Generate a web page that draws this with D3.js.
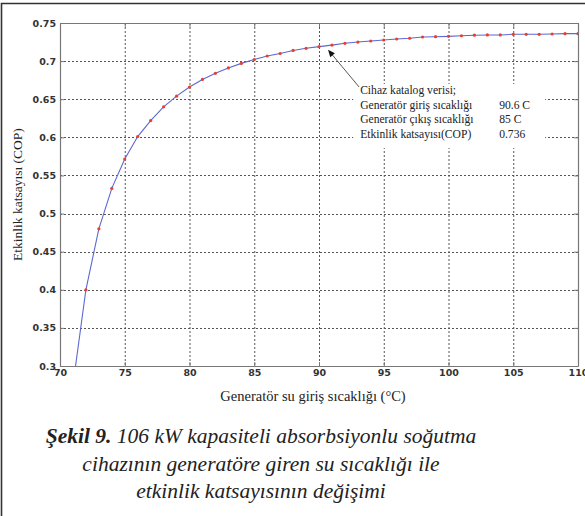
<!DOCTYPE html>
<html>
<head>
<meta charset="utf-8">
<script src="https://cdn.jsdelivr.net/npm/d3@7"></script>
<style>
  body { margin: 0; background: #fff; }
  svg { display: block; }
</style>
</head>
<body>
<div id="chart"></div>
<script>
const width = 585;
const height = 516;
const margin = { top: 23, right: 7, bottom: 150, left: 60 };
const serif = "Liberation Serif, Times New Roman, serif";

// generator inlet water temperature (C)
const temps = [71, 72, 73, 74, 75, 76, 77, 78, 79, 80, 81, 82, 83, 84, 85, 86, 87, 88, 89, 90,
  91, 92, 93, 94, 95, 96, 97, 98, 99, 100, 101, 102, 103, 104, 105, 106, 107, 108, 109, 110];
// coefficient of performance
const cop = [0.275, 0.400, 0.480, 0.533, 0.5715, 0.601, 0.622, 0.640, 0.654, 0.666,
  0.676, 0.684, 0.691, 0.697, 0.702, 0.7067, 0.710, 0.714, 0.7168, 0.719,
  0.721, 0.7234, 0.725, 0.7264, 0.7277, 0.729, 0.730, 0.7316, 0.732, 0.7325,
  0.7333, 0.734, 0.7343, 0.7343, 0.7352, 0.7352, 0.7352, 0.7356, 0.736, 0.736];

const xTicks = [70, 75, 80, 85, 90, 95, 100, 105, 110];
const yTicks = [0.3, 0.35, 0.4, 0.45, 0.5, 0.55, 0.6, 0.65, 0.7, 0.75];

const noteLabels = ["Cihaz katalog verisi;", "Generatör giriş sıcaklığı", "Generatör çıkış sıcaklığı", "Etkinlik katsayısı(COP)"];
const noteValues = ["", "90.6 C", "85 C", "0.736"];
const noteTip = [90.7, 0.7148];   // where the arrow points (data units)
const noteTail = [93.1, 0.666];

const captionBold = "Şekil 9.";
const captionLines = [" 106 kW kapasiteli absorbsiyonlu soğutma", "cihazının generatöre giren su sıcaklığı ile", "etkinlik katsayısının değişimi"];

const data = temps.map((t, i) => ({ t: t, v: cop[i] }));

const svg = d3
  .select("#chart")
  .append("svg")
  .attr("width", width)
  .attr("height", height);

const x = d3
  .scaleLinear()
  .domain([70, 110])
  .range([margin.left, width - margin.right]);

const y = d3
  .scaleLinear()
  .domain([0.3, 0.75])
  .range([height - margin.bottom, margin.top]);

const plotW = x.range()[1] - x.range()[0];
const plotH = y.range()[0] - y.range()[1];

// outer frame (only top and left edges show in the crop)
svg.append("path")
  .attr("d", `M1.5,${height} L1.5,3.5 L${width},3.5`)
  .attr("fill", "none")
  .attr("stroke", "#333")
  .attr("stroke-width", 1.6);

// dotted grid
const grid = svg.append("g").attr("stroke", "#555").attr("stroke-width", 1).attr("stroke-dasharray", "2,2");
grid.selectAll("line.vx")
  .data(xTicks.slice(1, -1))
  .join("line")
  .attr("x1", (d) => x(d) + 0.5).attr("x2", (d) => x(d) + 0.5)
  .attr("y1", y.range()[1]).attr("y2", y.range()[0]);
grid.selectAll("line.hy")
  .data(yTicks.slice(1, -1))
  .join("line")
  .attr("y1", (d) => Math.round(y(d)) + 0.5).attr("y2", (d) => Math.round(y(d)) + 0.5)
  .attr("x1", x.range()[0]).attr("x2", x.range()[1]);

// axes, ticks inward on all four sides
const fmt = (d) => d3.format("")(+d.toFixed(2));
const axStyle = (g) => {
  g.select(".domain").attr("stroke", "#777").attr("stroke-width", 1.2);
  g.selectAll(".tick line").attr("stroke", "#777");
  g.selectAll("text").attr("fill", "#333").attr("font-family", "DejaVu Sans").attr("font-size", 9.5).attr("font-weight", "bold");
};

svg.append("g")
  .attr("transform", `translate(0,${y.range()[0]})`)
  .call(d3.axisBottom(x).tickValues(xTicks).tickSize(-4).tickSizeOuter(0).tickPadding(3))
  .call(axStyle);
svg.append("g")
  .attr("transform", `translate(${x.range()[0]},0)`)
  .call(d3.axisLeft(y).tickValues(yTicks).tickFormat(fmt).tickSize(-4).tickSizeOuter(0).tickPadding(4))
  .call(axStyle);
svg.append("g")
  .attr("transform", `translate(0,${y.range()[1]})`)
  .call(d3.axisTop(x).tickValues(xTicks).tickSize(-4).tickSizeOuter(0).tickFormat(""))
  .call(axStyle);
svg.append("g")
  .attr("transform", `translate(${x.range()[1]},0)`)
  .call(d3.axisRight(y).tickValues(yTicks).tickSize(-4).tickSizeOuter(0).tickFormat(""))
  .call(axStyle);

// curve + markers, clipped to the plot box
svg.append("clipPath").attr("id", "clip")
  .append("rect")
  .attr("x", x.range()[0]).attr("y", y.range()[1])
  .attr("width", plotW).attr("height", plotH);

const plot = svg.append("g").attr("clip-path", "url(#clip)");

const line = d3.line().x((d) => x(d.t)).y((d) => y(d.v));

plot.append("path")
  .datum(data)
  .attr("fill", "none")
  .attr("stroke", "#5d68d0")
  .attr("stroke-width", 1.1)
  .attr("d", line);

plot.selectAll("circle")
  .data(data)
  .join("circle")
  .attr("cx", (d) => x(d.t))
  .attr("cy", (d) => y(d.v))
  .attr("r", 1.6)
  .attr("fill", "#e8402a");

// annotation
const tipX = x(noteTip[0]), tipY = y(noteTip[1]);
const tailX = x(noteTail[0]), tailY = y(noteTail[1]);

svg.append("rect")
  .attr("x", tailX - 6).attr("y", tailY - 3)
  .attr("width", 192).attr("height", 64)
  .attr("fill", "#fff");

const ang = Math.atan2(tipY - tailY, tipX - tailX);
svg.append("line")
  .attr("x1", tailX).attr("y1", tailY)
  .attr("x2", tipX - 5 * Math.cos(ang)).attr("y2", tipY - 5 * Math.sin(ang))
  .attr("stroke", "#444").attr("stroke-width", 0.9);
const ah = 7, aw = 3;
svg.append("path")
  .attr("d", `M${tipX},${tipY}
    L${tipX - ah * Math.cos(ang) + aw * Math.sin(ang)},${tipY - ah * Math.sin(ang) - aw * Math.cos(ang)}
    L${tipX - ah * Math.cos(ang) - aw * Math.sin(ang)},${tipY - ah * Math.sin(ang) + aw * Math.cos(ang)} Z`)
  .attr("fill", "#111");

const note = svg.append("g")
  .attr("font-family", serif)
  .attr("font-size", 11.6)
  .attr("fill", "#222");

note.selectAll("text.lab")
  .data(noteLabels)
  .join("text")
  .attr("class", "lab")
  .attr("x", tailX + 1)
  .attr("y", (d, i) => tailY + 7 + i * 14.5)
  .text((d) => d);

note.selectAll("text.val")
  .data(noteValues)
  .join("text")
  .attr("class", "val")
  .attr("x", tailX + 140)
  .attr("y", (d, i) => tailY + 7 + i * 14.5)
  .text((d) => d);

// axis titles
svg.append("text")
  .attr("font-family", serif)
  .attr("x", (x.range()[0] + x.range()[1]) / 2 - 6)
  .attr("y", 401)
  .attr("text-anchor", "middle")
  .attr("font-size", 14.5)
  .attr("fill", "#222")
  .text("Generatör su giriş sıcaklığı (°C)");

svg.append("text")
  .attr("font-family", serif)
  .attr("transform", `translate(22,${(y.range()[0] + y.range()[1]) / 2}) rotate(-90)`)
  .attr("text-anchor", "middle")
  .attr("font-size", 13.5)
  .attr("fill", "#222")
  .text("Etkinlik katsayısı (COP)");

// caption
const cap = svg.append("g")
  .attr("font-family", serif)
  .attr("font-size", 21.5)
  .attr("font-style", "italic")
  .attr("fill", "#222")
  .attr("text-anchor", "middle");

const first = cap.append("text").attr("x", 261).attr("y", 443);
first.append("tspan").attr("font-weight", "bold").text(captionBold);
first.append("tspan").text(captionLines[0]);
cap.selectAll("text.rest")
  .data(captionLines.slice(1))
  .join("text")
  .attr("class", "rest")
  .attr("x", 261)
  .attr("y", (d, i) => 471 + i * 27)
  .text((d) => d);
</script>
</body>
</html>
